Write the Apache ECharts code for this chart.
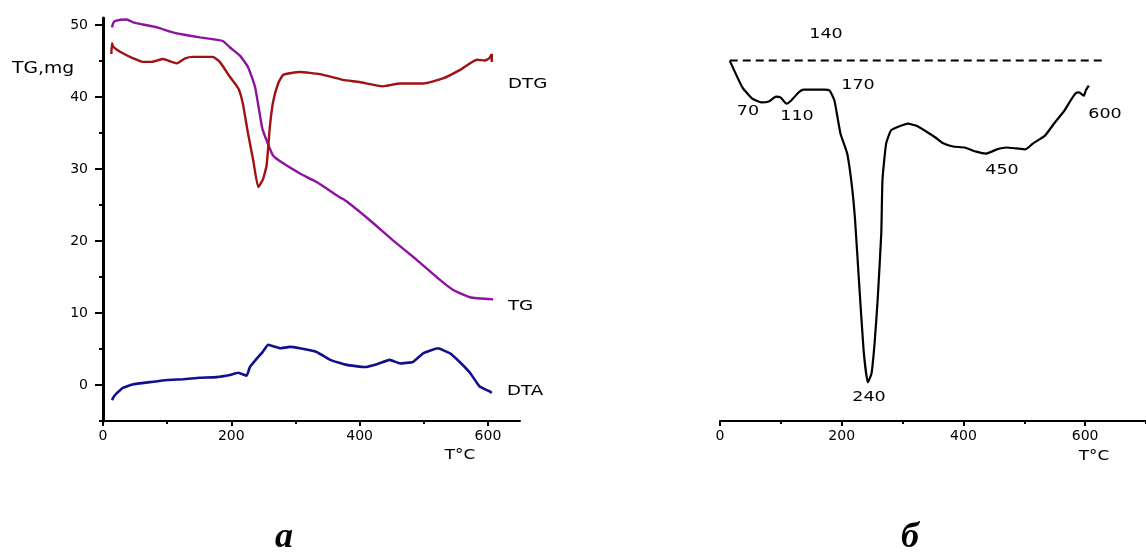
<!DOCTYPE html>
<html><head><meta charset="utf-8">
<script src="https://cdn.jsdelivr.net/npm/echarts@6/dist/echarts.min.js"></script>
<style>html,body{margin:0;padding:0;background:#fff}#c{width:1146px;height:554px}</style>
</head><body><div id="c"></div>
<script>
// ---------- data (panel а: TG / DTG / DTA) ----------
const tgT  = [14,16,19,37,47,62,84,109,125,151,187,198,213,226,237,248,255,265,281,307,333,369,380,416,452,489,520,546,572,608];
const tgV  = [49.7,50.3,50.6,50.8,50.4,50.1,49.7,49.0,48.7,48.3,47.8,46.9,45.8,44.2,41.4,35.8,34.0,31.9,30.8,29.4,28.2,26.1,25.5,22.9,20.1,17.4,15.0,13.2,12.2,11.9];

const dtgT = [13,14,16,31,47,62,76,94,104,115,128,140,171,182,198,211,218,226,234,242,249,255,260,265,273,281,307,338,374,400,436,463,499,530,556,583,595,602,606,606];
const dtgV = [46.0,47.5,47.0,46.1,45.4,44.9,44.9,45.3,45.0,44.7,45.4,45.6,45.6,44.9,42.8,41.2,39.1,35.0,31.3,27.5,28.5,30.5,35.8,39.3,41.9,43.1,43.5,43.2,42.4,42.1,41.5,41.9,41.9,42.6,43.75,45.2,45.1,45.4,46.0,44.9];

const dtaT = [14,17,22,31,47,73,100,125,151,177,198,211,224,229,240,249,257,265,276,291,307,333,354,380,408,427,447,463,483,499,522,541,556,572,587,603,606];
const dtaV = [-2.1,-1.6,-1.1,-0.4,0.1,0.4,0.7,0.8,1.0,1.1,1.4,1.7,1.3,2.5,3.7,4.6,5.6,5.4,5.1,5.3,5.1,4.6,3.5,2.8,2.5,2.9,3.5,3.0,3.2,4.4,5.1,4.4,3.2,1.7,-0.2,-0.9,-1.1];

// ---------- data (panel б: DTG, relative units, 0 = baseline) ----------
const bT = [16,37,53,68,80,92,100,109,117,129,137,150,172,180,188,198,209,217,222,228,236,243,249,254,259,265,267,273,281,294,309,322,342,354,365,383,402,421,437,455,471,487,502,514,534,550,566,576,584,590,598,601,606];
const bV = [0,-8.4,-11.8,-13.0,-12.7,-11.2,-11.5,-13.4,-12.4,-9.9,-9.0,-9.0,-9.0,-9.3,-12.4,-22.7,-28.9,-39.4,-49.7,-67.4,-90.1,-100,-97.2,-87.9,-74.5,-53.7,-37,-25.8,-21.7,-20.5,-19.6,-20.2,-22.4,-23.9,-25.5,-26.7,-27.0,-28.3,-28.9,-27.6,-27.0,-27.3,-27.6,-25.8,-23.3,-19.3,-15.5,-12.4,-10.2,-9.9,-10.9,-9.3,-7.8];
const baseT = [16, 632];
const baseV = [0, 0];

// ---------- ticks ----------
const xMajor = [0,200,400,600];
const xMinorA = [100,300,500];
const xMinorB = [100,300,500,700];
const yMajor = [0,10,20,30,40,50];
const yMinor = [-5,5,15,25,35,45];

const zip = (a,b) => a.map((v,i)=>[v,b[i]]);
const FONT = '"DejaVu Sans", "Liberation Sans", sans-serif';
const BLK = '#000';

function xAx(grid, max, ticks, len, labels, showLine) {
  return {
    type:'value', gridIndex:grid, min:0, max:max, position:'bottom', offset:0,
    axisLine:{show:showLine, onZero:false, lineStyle:{color:BLK, width:2}},
    axisTick:{show:true, customValues:ticks, length:len, inside:false, lineStyle:{color:BLK, width:2}},
    axisLabel:{show:!!labels, customValues:labels||[], margin:8, color:BLK, fontFamily:FONT, fontSize:14},
    splitLine:{show:false}
  };
}

const chart = echarts.init(document.getElementById('c'), null, {renderer:'canvas'});
chart.setOption({
  backgroundColor:'#fff',
  animation:false,
  grid:[
    {left:103, top:18, width:417, height:403},
    {left:720, top:22, width:435, height:399}
  ],
  xAxis:[
    xAx(0, 650, xMajor, 5, xMajor, true),
    xAx(0, 650, xMinorA, 3, null, false),
    xAx(1, 700, xMajor, 5, xMajor, true),
    xAx(1, 700, xMinorB, 3, null, false)
  ],
  yAxis:[
    {type:'value', gridIndex:0, min:-5, max:51, position:'left', offset:0,
     axisLine:{show:true, onZero:false, lineStyle:{color:BLK, width:3}},
     axisTick:{show:true, customValues:yMinor, length:4, lineStyle:{color:BLK, width:2}},
     axisLabel:{show:false}, splitLine:{show:false}},
    {type:'value', gridIndex:0, min:-5, max:51, position:'left', offset:0,
     axisLine:{show:false, onZero:false},
     axisTick:{show:true, customValues:yMajor, length:8, lineStyle:{color:BLK, width:2}},
     axisLabel:{show:true, customValues:yMajor, margin:15, color:BLK, fontFamily:FONT, fontSize:14},
     splitLine:{show:false}},
    {type:'value', gridIndex:1, min:-112, max:12, show:false,
     axisLine:{onZero:false}, splitLine:{show:false}}
  ],
  series:[
    {name:'TG', type:'line', xAxisIndex:0, yAxisIndex:0, data:zip(tgT,tgV), symbol:'none', smooth:0.15,
     lineStyle:{color:'#8e12a0', width:2.4}},
    {name:'DTG', type:'line', xAxisIndex:0, yAxisIndex:0, data:zip(dtgT,dtgV), symbol:'none', smooth:0.15,
     lineStyle:{color:'#a01212', width:2.4}},
    {name:'DTA', type:'line', xAxisIndex:0, yAxisIndex:0, data:zip(dtaT,dtaV), symbol:'none', smooth:0.1,
     lineStyle:{color:'#10108f', width:2.6}},
    {name:'DTG б', type:'line', xAxisIndex:2, yAxisIndex:2, data:zip(bT,bV), symbol:'none', smooth:0.15,
     lineStyle:{color:BLK, width:2.2}},
    {name:'baseline', type:'line', xAxisIndex:2, yAxisIndex:2, data:zip(baseT,baseV), symbol:'none',
     lineStyle:{color:BLK, width:2, type:[8,5]}}
  ],
  graphic:[
    {type:'text', x:12, y:69, scaleX:1.25, style:{text:'TG,mg', font:'15px '+FONT, fill:BLK, verticalAlign:'middle'}},
    {type:'text', x:460, y:455, scaleX:1.2, style:{text:'T°C', font:'14px '+FONT, fill:BLK, align:'center', verticalAlign:'middle'}},
    {type:'text', x:1094, y:456, scaleX:1.2, style:{text:'T°C', font:'14px '+FONT, fill:BLK, align:'center', verticalAlign:'middle'}},
    {type:'text', x:508, y:84, scaleX:1.3, style:{text:'DTG', font:'14px '+FONT, fill:BLK, verticalAlign:'middle'}},
    {type:'text', x:508, y:306, scaleX:1.3, style:{text:'TG', font:'14px '+FONT, fill:BLK, verticalAlign:'middle'}},
    {type:'text', x:507, y:391, scaleX:1.3, style:{text:'DTA', font:'14px '+FONT, fill:BLK, verticalAlign:'middle'}},
    {type:'text', x:826, y:34, scaleX:1.25, style:{text:'140', font:'14px '+FONT, fill:BLK, align:'center', verticalAlign:'middle'}},
    {type:'text', x:858, y:85, scaleX:1.25, style:{text:'170', font:'14px '+FONT, fill:BLK, align:'center', verticalAlign:'middle'}},
    {type:'text', x:748, y:111, scaleX:1.25, style:{text:'70', font:'14px '+FONT, fill:BLK, align:'center', verticalAlign:'middle'}},
    {type:'text', x:797, y:116, scaleX:1.25, style:{text:'110', font:'14px '+FONT, fill:BLK, align:'center', verticalAlign:'middle'}},
    {type:'text', x:869, y:397, scaleX:1.25, style:{text:'240', font:'14px '+FONT, fill:BLK, align:'center', verticalAlign:'middle'}},
    {type:'text', x:1002, y:170, scaleX:1.25, style:{text:'450', font:'14px '+FONT, fill:BLK, align:'center', verticalAlign:'middle'}},
    {type:'text', x:1105, y:114, scaleX:1.25, style:{text:'600', font:'14px '+FONT, fill:BLK, align:'center', verticalAlign:'middle'}},
    {type:'text', x:284, y:538, style:{text:'а', font:'italic bold 36px "Liberation Serif", "DejaVu Serif", serif', fill:BLK, align:'center', verticalAlign:'middle'}},
    {type:'text', x:910, y:538, style:{text:'б', font:'italic bold 36px "Liberation Serif", "DejaVu Serif", serif', fill:BLK, align:'center', verticalAlign:'middle'}}
  ]
});
</script></body></html>
